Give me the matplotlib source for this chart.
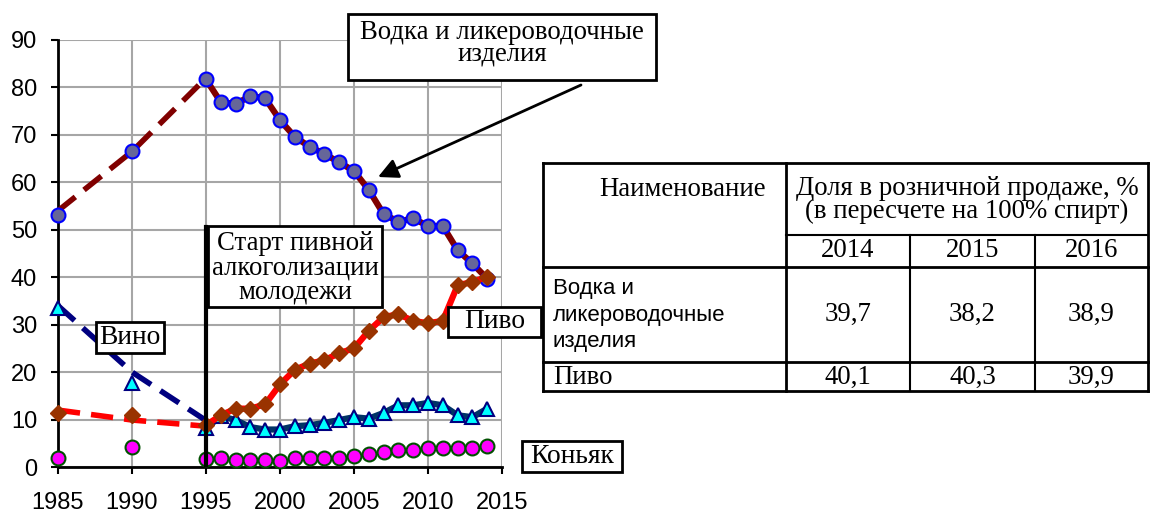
import matplotlib
matplotlib.use('Agg')
import matplotlib.pyplot as plt
from matplotlib.patches import Rectangle, FancyArrowPatch
from matplotlib.lines import Line2D

# data
early_years = [1985, 1990, 1995]
years = list(range(1995, 2015))
vodka_early = [53.2, 66.7]
vodka_trend = [54.0, 66.5, 82.0]
vodka = [81.7, 76.9, 76.5, 78.2, 77.7, 73.1, 69.6, 67.5, 66.0, 64.2,
         62.4, 58.4, 53.3, 51.7, 52.4, 50.8, 50.8, 45.7, 42.9, 39.7]
beer_early = [11.3, 11.0]
beer_trend = [12.0, 9.9, 8.6]
beer = [8.8, 10.9, 12.3, 12.3, 13.2, 17.4, 20.5, 21.8, 22.5, 24.0,
        25.0, 28.7, 31.6, 32.2, 30.8, 30.3, 30.8, 38.3, 39.0, 40.1]
wine_early = [33.6, 17.8]
wine_trend = [34.0, 20.0, 9.8]
wine = [8.2, 10.7, 9.9, 8.4, 7.9, 7.9, 8.6, 8.8, 9.3, 9.9,
        10.5, 10.2, 11.4, 13.0, 13.0, 13.5, 13.0, 10.9, 10.5, 12.3]
cognac_early = [1.8, 4.2]
cognac = [1.6, 1.8, 1.4, 1.4, 1.4, 1.3, 1.8, 1.8, 1.8, 1.8,
          2.3, 2.8, 3.2, 3.5, 3.5, 3.9, 3.9, 3.9, 3.9, 4.4]

table_head_name = 'Наименование'
table_head_share = 'Доля в розничной продаже, %\n(в пересчете на 100% спирт)'
table_years = ['2014', '2015', '2016']
table_rows = ['Водка и\nликероводочные\nизделия', 'Пиво']
table_values = [['39,7', '38,2', '38,9'], ['40,1', '40,3', '39,9']]

W, H = 1150, 513
SERIF = 'Liberation Serif'
SANS = 'Liberation Sans'
FS = 19.3


def fx(x):
    return x / W


def fy(y):
    return 1 - y / H


fig = plt.figure(figsize=(11.5, 5.13), dpi=100)
ax = fig.add_axes([fx(58), fy(467), 444 / W, 427 / H])
ax.set_xlim(1985, 2015)
ax.set_ylim(0, 90)
ax.set_xticks(range(1985, 2016, 5))
ax.set_yticks(range(0, 91, 10))
ax.grid(True, color='#a6a6a6', lw=1.5)
ax.set_axisbelow(True)
for s in ['top', 'right']:
    ax.spines[s].set_visible(False)
for s in ['left', 'bottom']:
    ax.spines[s].set_linewidth(2)
    ax.spines[s].set_zorder(2)
ax.tick_params(axis='both', length=5, width=1.5, labelsize=17)
ax.tick_params(axis='x', pad=13)
ax.tick_params(axis='y', pad=10)
for lab in ax.get_xticklabels() + ax.get_yticklabels():
    lab.set_fontfamily(SANS)

dash = (0, (4, 2))

# cognac
ax.plot(early_years[:2], cognac_early, 'o', ms=10, mfc='#ff00ff', mec='#005000',
        mew=1.5, clip_on=False, zorder=3)
ax.plot(years, cognac, '-o', color='#005000', lw=1, ms=10, mfc='#ff00ff',
        mec='#005000', mew=1.5, clip_on=False, zorder=3)

# wine
ax.plot(early_years, wine_trend, color='#000080', lw=4, ls=dash, zorder=3)
ax.plot(early_years[:2], wine_early, '^', ms=10, mfc='#00ffff', mec='#000080',
        mew=1.5, clip_on=False, zorder=4)
ax.plot(years, wine, '-^', color='#003366', lw=4.5, ms=10, mfc='#00ffff',
        mec='#000080', mew=1.5, zorder=4)

# vodka
ax.plot(early_years, vodka_trend, color='#800000', lw=4, ls=dash, zorder=5)
ax.plot(early_years[:2], vodka_early, 'o', ms=10, mfc='#666699', mec='#0000ff',
        mew=1.5, clip_on=False, zorder=5)
ax.plot(years, vodka, '-o', color='#800000', lw=4.5, ms=10, mfc='#666699',
        mec='#0000ff', mew=1.5, zorder=5)

# beer
ax.plot(early_years, beer_trend, color='#ff0000', lw=4, ls=dash, zorder=6)
ax.plot(early_years[:2], beer_early, 'D', ms=8, mfc='#993300', mec='#993300',
        clip_on=False, zorder=6)
ax.plot(years, beer, '-D', color='#ff0000', lw=4.5, ms=8, mfc='#993300',
        mec='#993300', zorder=6)

# start-of-beer marker line
ax.plot([1995, 1995], [0, 50.5], color='black', lw=3, zorder=7)


def box(x0, y0, x1, y1, text, size=FS, ls=0.85, dy=0):
    fig.add_artist(Rectangle((fx(x0), fy(y1)), fx(x1) - fx(x0), fy(y0) - fy(y1),
                             transform=fig.transFigure, fc='white', ec='black',
                             lw=2, zorder=10))
    fig.text(fx((x0 + x1) / 2), fy((y0 + y1) / 2 + dy), text, ha='center',
             va='center', fontsize=size, family=SERIF, linespacing=ls, zorder=11)


box(348, 14, 656, 80, 'Водка и ликероводочные\nизделия', ls=0.82, dy=-4)
box(208, 226, 382, 307, 'Старт пивной\nалкоголизации\nмолодежи', ls=0.97, dy=1)
box(96, 322, 164, 353, 'Вино', size=19.8)
box(448, 307, 541, 337, 'Пиво', size=19.8)
box(522, 441, 622, 472, 'Коньяк', size=19.8)

fig.add_artist(FancyArrowPatch(
    (fx(581), fy(85)), (fx(378), fy(177)), transform=fig.transFigure,
    arrowstyle='-|>', mutation_scale=30, lw=2, color='black', zorder=12,
    shrinkA=0, shrinkB=0))

# table
cols = [543, 786, 910, 1035, 1148]
rows = [163, 235, 267, 362, 391]


def hline(x0, x1, y, lw=2):
    fig.add_artist(Line2D([fx(x0), fx(x1)], [fy(y), fy(y)], color='black', lw=lw,
                          transform=fig.transFigure))


def vline(x, y0, y1, lw=2):
    fig.add_artist(Line2D([fx(x), fx(x)], [fy(y0), fy(y1)], color='black', lw=lw,
                          transform=fig.transFigure))


hline(cols[0], cols[-1], rows[0])
hline(cols[1], cols[-1], rows[1], lw=1.5)
hline(cols[0], cols[-1], rows[2])
hline(cols[0], cols[-1], rows[3])
hline(cols[0], cols[-1], rows[4])
vline(cols[0], rows[0], rows[4])
vline(cols[1], rows[0], rows[4])
vline(cols[-1], rows[0], rows[4])
for c in cols[2:4]:
    vline(c, rows[1], rows[4], lw=1.5)

fig.text(fx(683), fy(190), table_head_name, ha='center', va='center',
         fontsize=FS, family=SERIF)
fig.text(fx((cols[1] + cols[-1]) / 2), fy(200), table_head_share, ha='center',
         va='center', fontsize=FS, family=SERIF, linespacing=0.92)
for i, yr in enumerate(table_years):
    fig.text(fx((cols[i + 1] + cols[i + 2]) / 2), fy(251), yr, ha='center',
             va='center', fontsize=FS, family=SERIF)
fig.text(fx(553), fy(315), table_rows[0], ha='left', va='center', fontsize=16,
         family=SANS, linespacing=1.35)
fig.text(fx(553), fy(377), table_rows[1], ha='left', va='center', fontsize=FS,
         family=SERIF)
for r, yc in enumerate([314, 377]):
    for i, v in enumerate(table_values[r]):
        fig.text(fx((cols[i + 1] + cols[i + 2]) / 2), fy(yc), v, ha='center',
                 va='center', fontsize=FS, family=SERIF)

fig.savefig('out.png', dpi=100)
